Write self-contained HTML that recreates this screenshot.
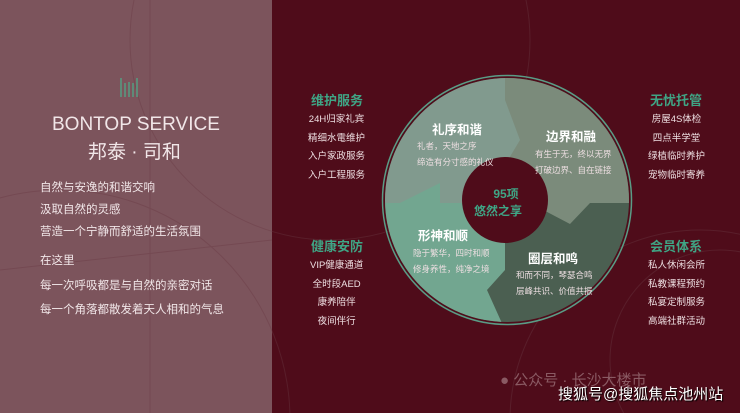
<!DOCTYPE html>
<html><head><meta charset="utf-8"><style>
html,body{margin:0;padding:0;width:740px;height:413px;overflow:hidden}
body{position:relative;background:#4f0c1a;font-family:"Liberation Sans","Noto Sans CJK SC",sans-serif}
.l{position:absolute;left:0;top:0;width:272px;height:413px;background:#7c545c}
.t{position:absolute;white-space:nowrap}
.w{color:#f1e6e8}
.g{color:#3fa585;font-weight:bold;font-size:13px}
.s{color:#eedfe2;font-size:9.5px;line-height:18.5px;text-align:center}
</style></head><body>
<div class="l"></div>
<svg width="740" height="413" style="position:absolute;left:0;top:0">
<g stroke="#6a3a44" stroke-width="1" fill="none" opacity="0.4">
<circle cx="60" cy="420" r="230"/><circle cx="330" cy="40" r="200"/><circle cx="700" cy="420" r="190"/><circle cx="720" cy="360" r="110"/>
<line x1="0" y1="270" x2="272" y2="240"/><line x1="150" y1="0" x2="150" y2="413"/>
</g>
<g stroke="#5f8a78" stroke-width="2">
<line x1="121" y1="78" x2="121" y2="97"/><line x1="125" y1="83" x2="125" y2="97"/><line x1="129" y1="82" x2="129" y2="97"/><line x1="133" y1="83" x2="133" y2="97"/><line x1="137" y1="78" x2="137" y2="97"/>
</g>
<defs><clipPath id="c"><circle cx="507" cy="200" r="122"/></clipPath></defs>
<g clip-path="url(#c)">
<rect x="380" y="70" width="260" height="260" fill="#4b5f51"/>
<polygon points="505,70 640,70 640,203 590,203 570,224 530,203 505,180" fill="#7b8b7b"/>
<polygon points="380,70 505,70 505,100 520,140 505,165 505,203 380,203" fill="#819a8e"/>
<polygon points="380,203 400,203 440,183 440,203 505,203 505,270 487,290 505,330 380,330" fill="#72a690"/>
</g>
<circle cx="507" cy="200" r="124.5" fill="none" stroke="#5a9c86" stroke-width="1.5"/>
<circle cx="505" cy="200" r="43" fill="#4f0c1a"/>
</svg>
<div class="t w" style="left:52px;top:114px;font-size:19px">BONTOP SERVICE</div>
<div class="t w" style="left:88px;top:137px;font-size:19px">邦泰 · 司和</div>
<div class="t w" style="left:40px;top:177px;font-size:11.5px;line-height:22px">自然与安逸的和谐交响<br>汲取自然的灵感<br>营造一个宁静而舒适的生活氛围</div>
<div class="t w" style="left:40px;top:249px;font-size:11.5px;line-height:24.5px">在这里<br>每一次呼吸都是与自然的亲密对话<br>每一个角落都散发着天人相和的气息</div>

<div class="t g" style="left:311px;top:90px">维护服务</div>
<div class="t s" style="left:308px;top:111px">24H归家礼宾<br>精细水電维护<br>入户家政服务<br>入户工程服务</div>
<div class="t g" style="left:311px;top:236px">健康安防</div>
<div class="t s" style="left:310px;top:257px">VIP健康通道<br>全时段AED<br>康养陪伴<br>夜间伴行</div>
<div class="t g" style="left:650px;top:90px">无忧托管</div>
<div class="t s" style="left:648px;top:111px">房屋4S体检<br>四点半学堂<br>绿植临时养护<br>宠物临时寄养</div>
<div class="t g" style="left:650px;top:236px">会员体系</div>
<div class="t s" style="left:648px;top:257px">私人休闲会所<br>私教课程预约<br>私宴定制服务<br>高端社群活动</div>

<div class="t" style="left:432px;top:119px;color:#fff;font-weight:bold;font-size:12.5px">礼序和谐</div>
<div class="t s" style="left:417px;top:138px;text-align:left;font-size:8.5px;line-height:16px">礼者，天地之序<br>缔造有分寸感的礼仪</div>
<div class="t" style="left:546px;top:126px;color:#fff;font-weight:bold;font-size:12.5px">边界和融</div>
<div class="t s" style="left:535px;top:146px;font-size:8.5px;line-height:16px">有生于无，终以无界<br>打破边界、自在链接</div>
<div class="t" style="left:418px;top:225px;color:#fff;font-weight:bold;font-size:12.5px">形神和顺</div>
<div class="t s" style="left:413px;top:245px;font-size:8.5px;line-height:16px">隐于繁华，四时和顺<br>修身养性，纯净之境</div>
<div class="t" style="left:528px;top:248px;color:#fff;font-weight:bold;font-size:12.5px">圈层和鸣</div>
<div class="t s" style="left:516px;top:267px;font-size:8.5px;line-height:16px">和而不同，琴瑟合鸣<br>层峰共识、价值共振</div>
<div class="t" style="left:490px;top:186px;color:#3fa585;font-weight:bold;font-size:12px;line-height:17px;text-align:center">95项<br><span style="margin-left:-16px">悠然之享</span></div>

<div class="t" style="left:500px;top:372px;font-size:15px;line-height:18px;color:#8a5a63">● 公众号 · 长沙大楼市</div>
<div class="t" style="left:558px;top:386px;font-size:15px;line-height:18px;color:#fff;text-shadow:1px 1px 1px #000">搜狐号@搜狐焦点池州站</div>
</body></html>
